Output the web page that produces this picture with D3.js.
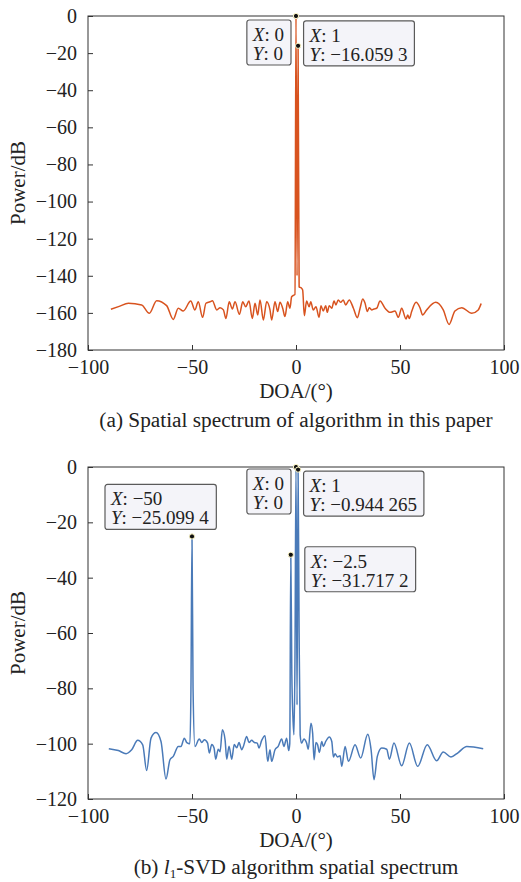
<!DOCTYPE html>
<html>
<head>
<meta charset="utf-8">
<script src="https://cdn.jsdelivr.net/npm/d3@7"></script>
<style>
  body { margin: 0; background: #fff; }
  svg { display: block; font-family: "Liberation Serif", "Times New Roman", serif; }
  svg text { font-family: "Liberation Serif", "Times New Roman", serif; }
  .axis-label { font-size: 21px; fill: #222; }
  .caption { font-size: 21.3px; fill: #222; }
  .tip-text { font-size: 19px; fill: #222; }
</style>
</head>
<body>
<svg id="chart" width="521" height="882"></svg>
<script>
// (a) spatial spectrum of proposed algorithm
const doaA = [-89, -85, -80.6, -74.2, -70.5, -67, -62.2, -59, -56.6, -54.2, -50.6, -48.6, -47, -44.9, -43.3,
  -41.3, -40.2, -38.1, -36.5, -34.9, -33.7, -32.1, -30.6, -29.3, -27.2, -25.6, -24.2, -22.6, -21, -19.7,
  -18.4, -17.3, -15.7, -14.1, -12.5, -11.7, -10.1, -8.8, -7.7, -6.4, -5.3, -4, -2.9, -2.1, -1, -0.5,
  0, 0.5, 1, 1.5, 2.5, 3.2, 4, 5.1, 6.3, 7.1, 8.3, 9.6, 11.1, 12, 13.1, 14.3, 15, 16, 17.2, 18.3, 19.2,
  20.3, 21.5, 22.7, 23.9, 25.6, 27.6, 29.5, 30.8, 32.1, 33.2, 34.3, 35.2, 36.4, 37.5, 38.8, 40.4, 42.8,
  45.2, 47.6, 49.2, 50.8, 52.9, 53.7, 54.5, 55.6, 57.7, 59.6, 60.9, 62.8, 67.2, 70.8, 73.6, 76.4, 79.7,
  84.5, 87.6, 89];
const powerA = [-158, -156.5, -154.8, -155.7, -160.2, -153.4, -156.1, -163.5, -157.5, -159, -153.6, -158.4,
  -154, -162.4, -154.8, -154, -153.4, -158.4, -157.2, -158.4, -163, -154, -157.9, -154, -160.8, -154,
  -156.7, -153.6, -163, -154.8, -161.1, -153, -163.8, -154, -158.4, -163.8, -154, -159.3, -154.3, -157.5,
  -162, -154, -157.5, -151.3, -150.4, -150, 0, -140, -16.0593, -146, -146.5, -147.7, -161.5, -153.6,
  -156.7, -154, -158.4, -156.7, -162.4, -156.1, -159, -156.1, -159.7, -156.1, -157.5, -153.6, -155.7,
  -153, -154.3, -153, -155.7, -153, -157.5, -162.6, -157.5, -152.5, -154.8, -159.3, -157.2, -158.4,
  -157.9, -157.5, -153.6, -157.5, -159.7, -159, -162.4, -157.5, -163.3, -161.1, -163, -159.3, -154.3,
  -157.2, -161.1, -158.4, -154.3, -158.4, -166.2, -159, -157.2, -160.2, -158.4, -155];

// (b) l1-SVD spatial spectrum
const doaB = [-90, -85.4, -81.7, -79, -76.1, -73.7, -71.8, -69.7, -67.3, -64.9, -62.5, -60.6, -59, -56.6,
  -55.3, -53.7, -52.5, -51, -50.5, -50, -49.5, -48.6, -46.5, -45.3, -44.1, -42.5, -41.7, -40.5, -39.4,
  -38.6, -37.4, -36.5, -35.4, -34.1, -33.3, -32.2, -30.9, -29.7, -28.5, -27.4, -26.1, -25.3, -23.7,
  -22.6, -21.3, -20, -18.6, -17.8, -16.5, -14.9, -13.6, -12.5, -11.7, -10.1, -8.5, -6.9, -5.8, -4.5,
  -3.5, -3, -2.5, -2, -1.5, -1, -0.5, 0, 0.5, 1, 1.5, 2, 2.7, 3.8, 5.1, 5.9, 7.2, 8, 8.7, 9.6, 10.4,
  11.2, 12.4, 13.1, 14.3, 16, 17.2, 18, 18.8, 19.9, 21.2, 22, 23.6, 25.2, 28.4, 31.1, 34.5, 36.1, 37.5,
  39.1, 41.2, 43.6, 44.9, 47.1, 50.8, 54.5, 58.5, 63.1, 67.6, 70.8, 74.5, 78, 82.1, 90];
const powerB = [-101.8, -102.5, -103.6, -102.2, -98.8, -100.4, -109.7, -98, -96, -99.2, -112.8, -105.8,
  -104.6, -101, -101, -98, -99.6, -100, -80, -25.0994, -80, -101, -98.3, -99.6, -98.6, -99.8, -103.4,
  -100.3, -101.6, -105.6, -102, -102.9, -95, -98.6, -105.6, -100.9, -105.6, -100.3, -101.5, -99.6,
  -102.2, -101, -97.4, -99.6, -98.8, -99.6, -99.8, -101.6, -98.8, -97.1, -106.4, -102.2, -106.4, -102.2,
  -100.9, -98.3, -101, -98, -102.5, -100, -31.7172, -75, -90, -96.8, -70, 0, -86, -0.944265, -60, -96.8,
  -99.8, -98.3, -99.8, -102, -92.6, -96.2, -105.8, -99.6, -100.4, -103.2, -99.2, -101, -99.2, -97.6,
  -99.2, -104.8, -103.6, -104.8, -104.4, -108.2, -101, -106.4, -100.4, -105.2, -96.6, -102.2, -113,
  -104.6, -101.6, -102, -105.6, -99.8, -108, -99.8, -108.2, -100.4, -106.2, -103, -104.8, -103.2, -101,
  -101.8];

// data tips
const tipsA = [
  { x: 0, y: 0, yText: "0", side: "left", dy: 4 },
  { x: 1, y: -16.0593, yText: "\u221216.059 3", side: "right", dy: -25 }
];
const tipsB = [
  { x: -50, y: -25.0994, xText: "\u221250", yText: "\u221225.099 4", side: "above", dy: -52 },
  { x: 0, y: 0, yText: "0", side: "left", dy: 2 },
  { x: 1, y: -0.944265, yText: "\u22120.944 265", side: "right", dy: 1.5 },
  { x: -2.5, y: -31.7172, xText: "\u22122.5", yText: "\u221231.717 2", side: "right2", dy: -8 }
];

const xTicks = [-100, -50, 0, 50, 100];
const yTicksA = d3.range(-180, 1, 20);
const yTicksB = d3.range(-120, 1, 20);

const serif = '"Liberation Serif", "Times New Roman", serif';
const svg = d3.select("#chart");
const minus = s => String(s).replace("-", "\u2212");

function panel(cfg) {
  const x = d3.scaleLinear().domain([-100, 100]).range([88, 504]);
  const y = d3.scaleLinear().domain(cfg.yDomain).range([cfg.bottom, cfg.top]);
  const g = svg.append("g");

  // box
  g.append("rect")
    .attr("x", x.range()[0]).attr("y", cfg.top)
    .attr("width", x.range()[1] - x.range()[0]).attr("height", cfg.bottom - cfg.top)
    .attr("fill", "none").attr("stroke", "#333").attr("stroke-width", 1);

  const xAxis = g.append("g").attr("transform", `translate(0,${cfg.bottom})`)
    .call(d3.axisBottom(x).tickValues(xTicks).tickSizeInner(-5).tickSizeOuter(0).tickPadding(10).tickFormat(minus));
  const yAxis = g.append("g").attr("transform", `translate(${x.range()[0]},0)`)
    .call(d3.axisLeft(y).tickValues(cfg.yTicks).tickSizeInner(-5).tickSizeOuter(0).tickPadding(11).tickFormat(minus));
  [xAxis, yAxis].forEach(a => {
    a.attr("font-family", serif).attr("font-size", 20);
    a.select(".domain").remove();
    a.selectAll(".tick line").attr("stroke", "#333");
    a.selectAll(".tick text").style("font-family", serif).attr("fill", "#222");
  });

  // line
  const line = d3.line()
    .x((d, i) => x(cfg.doa[i]))
    .y(d => y(d))
    .curve(d3.curveMonotoneX);
  g.append("path")
    .datum(cfg.power)
    .attr("fill", "none")
    .attr("stroke", cfg.color)
    .attr("stroke-width", 1.5)
    .attr("stroke-linejoin", "round")
    .attr("d", line);

  // axis labels
  g.append("text").attr("class", "axis-label")
    .attr("x", x(0)).attr("y", cfg.bottom + 48)
    .attr("text-anchor", "middle").text("DOA/(°)");
  g.append("text").attr("class", "axis-label")
    .attr("transform", `translate(25,${(cfg.top + cfg.bottom) / 2}) rotate(-90)`)
    .attr("text-anchor", "middle").text("Power/dB");

  // caption
  const cap = g.append("text").attr("class", "caption")
    .attr("x", x(0)).attr("y", cfg.bottom + cfg.capGap)
    .attr("text-anchor", "middle");
  cfg.caption(cap);

  // data tips
  cfg.tips.forEach(t => {
    const px = x(t.x), py = y(t.y);
    const tg = g.append("g");
    const box = tg.append("rect")
      .attr("rx", 2.5)
      .attr("fill", "#f4f4f9")
      .attr("stroke", "#5a5a5a")
      .attr("stroke-width", 1.2);
    const txt = tg.append("text").attr("class", "tip-text");
    const l1 = txt.append("tspan").attr("x", 0).attr("y", 21);
    l1.append("tspan").attr("font-style", "italic").text("X");
    l1.append("tspan").text(": " + (t.xText || t.x));
    const l2 = txt.append("tspan").attr("x", 0).attr("y", 40);
    l2.append("tspan").attr("font-style", "italic").text("Y");
    l2.append("tspan").text(": " + t.yText);
    const w = txt.node().getBBox().width + 12;
    const h = 45;
    box.attr("width", w).attr("height", h);
    txt.attr("transform", "translate(6,0)");
    let bx;
    if (t.side === "left") bx = px - 5 - w;
    else if (t.side === "right") bx = px + 5.5;
    else if (t.side === "right2") bx = px + 14;
    else bx = px - 87;
    tg.attr("transform", `translate(${bx},${py + t.dy})`);

    g.append("circle")
      .attr("cx", px).attr("cy", py).attr("r", 2.6)
      .attr("fill", "#111").attr("stroke", "#fff8c8").attr("stroke-width", 1);
  });
}

panel({
  top: 16, bottom: 350, yDomain: [-180, 0], yTicks: yTicksA, capGap: 77,
  doa: doaA, power: powerA, color: "#d8531f", tips: tipsA,
  caption: t => t.text("(a) Spatial spectrum of algorithm in this paper")
});

panel({
  top: 467, bottom: 799, yDomain: [-120, 0], yTicks: yTicksB, capGap: 75,
  doa: doaB, power: powerB, color: "#4a7ab8", tips: tipsB,
  caption: t => {
    t.append("tspan").text("(b) ");
    t.append("tspan").attr("font-style", "italic").text("l");
    t.append("tspan").attr("font-size", "13px").attr("dy", 4).text("1");
    t.append("tspan").attr("dy", -4).text("-SVD algorithm spatial spectrum");
  }
});
</script>
</body>
</html>
